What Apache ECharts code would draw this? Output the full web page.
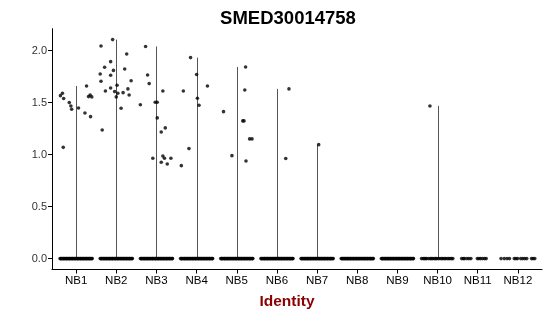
<!DOCTYPE html>
<html>
<head>
<meta charset="utf-8">
<script src="https://cdn.jsdelivr.net/npm/echarts@6/dist/echarts.min.js"></script>
<style>
html,body{margin:0;padding:0;background:#fff;}
#chart{width:550px;height:316px;}
</style>
</head>
<body>
<div id="chart"></div>
<script>
// ---- data ----
var titleText = "SMED30014758";
var xAxisTitle = "Identity";
var categories = ["NB1","NB2","NB3","NB4","NB5","NB6","NB7","NB8","NB9","NB10","NB11","NB12"];
var yTicks = [0, 0.5, 1.0, 1.5, 2.0];

// non-zero expression values per group, with their jitter offsets (in category units)
var nb1Values = [1.567,1.59,1.54,1.07,1.50,1.468,1.436,1.449,1.40,1.66,1.365,1.558,1.574,1.555];
var nb1Jitter = [-0.39,-0.34,-0.31,-0.32,-0.17,-0.13,-0.11,0.06,0.22,0.26,0.36,0.31,0.35,0.39];
var nb2Values = [2.045,2.106,1.84,1.894,1.776,1.706,1.763,1.81,1.968,1.824,1.71,1.612,1.641,1.606,1.667,1.555,1.59,1.596,1.632,1.574,1.446,1.237];
var nb2Jitter = [-0.38,-0.09,-0.29,-0.14,-0.40,-0.38,-0.14,-0.07,0.26,0.21,0.37,-0.27,-0.14,-0.04,0.02,0.00,0.04,0.17,0.29,0.32,0.12,-0.35];
var nb3Values = [2.04,1.766,1.683,1.48,1.504,1.504,1.612,1.353,1.218,1.257,0.965,0.987,0.927,0.965,0.91,0.965];
var nb3Jitter = [-0.27,-0.22,-0.18,-0.40,-0.03,0.02,0.16,0.02,0.12,0.22,-0.09,0.16,0.12,0.20,0.27,0.36];
var nb4Values = [1.933,1.77,1.66,1.612,1.542,1.475,1.058,0.894];
var nb4Jitter = [-0.15,0.00,0.27,-0.33,0.02,0.06,-0.19,-0.38];
var nb5Values = [1.843,1.622,1.413,1.324,1.324,1.151,1.151,0.99,0.939];
var nb5Jitter = [0.22,0.20,-0.33,0.15,0.18,0.32,0.38,-0.12,0.23];
var nb6Values = [1.632,0.962];
var nb6Jitter = [0.30,0.22];
var nb7Values = [1.096];
var nb7Jitter = [0.04];
var nb10Values = [1.468];
var nb10Jitter = [-0.19];

// jitter offsets of the many zero-valued cells
var zeroJitterDense = [-0.40,-0.38,-0.37,-0.35,-0.33,-0.31,-0.30,-0.28,-0.26,-0.24,-0.23,-0.21,-0.19,-0.17,-0.16,-0.14,-0.12,-0.10,-0.09,-0.07,-0.05,-0.03,-0.02,0.00,0.02,0.04,0.05,0.07,0.09,0.11,0.12,0.14,0.16,0.18,0.19,0.21,0.23,0.25,0.26,0.28,0.30,0.32,0.33,0.35,0.37,0.39,0.40];
var zeroJitterNB10 = [-0.40,-0.36,-0.33,-0.30,-0.27,-0.22,-0.18,-0.15,-0.12,-0.08,-0.05,-0.02,0.02,0.06,0.10,0.13,0.17,0.20,0.24,0.28,0.31,0.35,0.38];
var zeroJitterNB11 = [-0.40,-0.36,-0.33,-0.27,-0.22,-0.17,-0.01,0.03,0.07,0.12,0.17,0.21];
var zeroJitterNB12 = [-0.42,-0.34,-0.27,-0.21,-0.09,-0.05,-0.01,0.07,0.12,0.17,0.22,0.34,0.38,0.42];

// ---- assembly ----
var groupValues = [nb1Values,nb2Values,nb3Values,nb4Values,nb5Values,nb6Values,nb7Values,[],[],nb10Values,[],[]];
var groupJitter = [nb1Jitter,nb2Jitter,nb3Jitter,nb4Jitter,nb5Jitter,nb6Jitter,nb7Jitter,[],[],nb10Jitter,[],[]];
var groupZeroJitter = [zeroJitterDense,zeroJitterDense,zeroJitterDense,zeroJitterDense,zeroJitterDense,zeroJitterDense,zeroJitterDense,zeroJitterDense,zeroJitterDense,zeroJitterNB10,zeroJitterNB11,zeroJitterNB12];

var points = [];
var violins = [];
for (var g = 0; g < categories.length; g++) {
  var pos = g + 1;
  var vals = groupValues[g], jit = groupJitter[g];
  var mx = 0;
  for (var k = 0; k < vals.length; k++) {
    points.push([pos + jit[k], vals[k]]);
    if (vals[k] > mx) mx = vals[k];
  }
  var zj = groupZeroJitter[g];
  for (var z = 0; z < zj.length; z++) points.push([pos + zj[z], 0]);
  if (mx > 0) violins.push([pos, 0, mx]);
}

var chart = echarts.init(document.getElementById('chart'), null, {renderer: 'canvas'});
var ymin = -0.105, ymax = 2.211;
chart.setOption({
  animation: false,
  backgroundColor: '#ffffff',
  title: [{
    text: titleText,
    left: 283, top: 4,
    textAlign: 'center',
    textStyle: {fontFamily: 'Liberation Sans, Arial, sans-serif', fontWeight: 'bold', fontSize: 18.5, color: '#000'}
  }, {
    text: xAxisTitle,
    left: 282, top: 289,
    textAlign: 'center',
    textStyle: {fontFamily: 'Liberation Sans, Arial, sans-serif', fontWeight: 'bold', fontSize: 15.5, color: '#8B0000'}
  }],
  grid: {left: 52, right: 8, top: 28.7, bottom: 46.5, containLabel: false},
  xAxis: {
    type: 'value', min: 0.4, max: 12.6,
    splitLine: {show: false},
    axisLine: {show: true, onZero: false, lineStyle: {color: '#000', width: 1}},
    axisTick: {show: true, length: 4, customValues: [1,2,3,4,5,6,7,8,9,10,11,12], lineStyle: {color: '#000'}},
    axisLabel: {
      customValues: [1,2,3,4,5,6,7,8,9,10,11,12],
      formatter: function (v) { return categories[Math.round(v) - 1]; },
      fontFamily: 'Liberation Sans, Arial, sans-serif', fontSize: 11.5, color: '#000', margin: 5
    }
  },
  yAxis: {
    type: 'value', min: ymin, max: ymax,
    splitLine: {show: false},
    axisLine: {show: true, onZero: false, lineStyle: {color: '#000', width: 1}},
    axisTick: {show: true, length: 4, customValues: yTicks, lineStyle: {color: '#000'}},
    axisLabel: {
      customValues: yTicks,
      formatter: function (v) { return v.toFixed(1); },
      fontFamily: 'Liberation Sans, Arial, sans-serif', fontSize: 11, color: '#333', margin: 5
    }
  },
  series: [
    {
      type: 'custom',
      data: violins,
      renderItem: function (params, api) {
        var p0 = api.coord([api.value(0), api.value(1)]);
        var p1 = api.coord([api.value(0), api.value(2)]);
        return {
          type: 'line',
          shape: {x1: Math.round(p0[0]) + 0.5, y1: p0[1], x2: Math.round(p1[0]) + 0.5, y2: p1[1]},
          style: {stroke: '#555', lineWidth: 1}
        };
      },
      z: 1
    },
    {
      type: 'scatter',
      data: points,
      symbol: 'circle',
      symbolSize: 3.6,
      itemStyle: {color: '#000'},
      z: 2
    }
  ]
});
</script>
</body>
</html>
